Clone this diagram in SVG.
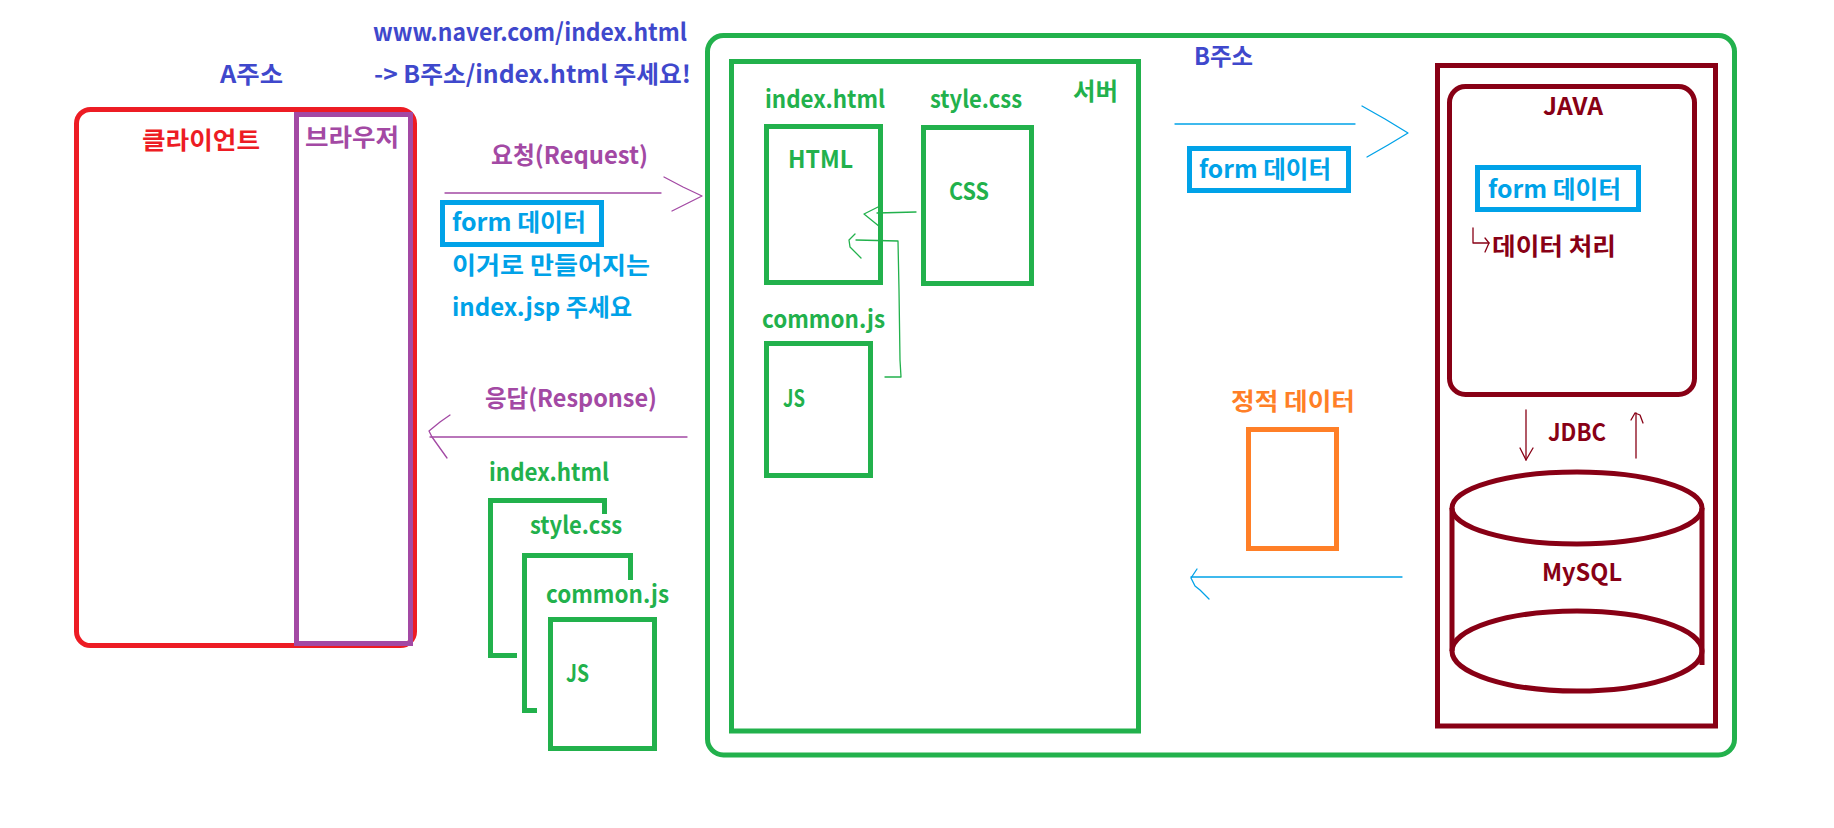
<svg xmlns="http://www.w3.org/2000/svg" width="1834" height="828" viewBox="0 0 1834 828">
<style>
.t{font-family:"Noto Sans CJK KR","Noto Sans",sans-serif;font-weight:bold;font-size:24px}
.ind{fill:#3F48CC}.red{fill:#ED1C24}.pur{fill:#A349A4}.sky{fill:#00A2E8}.grn{fill:#22B14C}.drd{fill:#880015}.org{fill:#FF7F27}
.box{fill:none;stroke-width:5}
.g{stroke:#22B14C}.b{stroke:#00A2E8}.d{stroke:#880015}
.ln{fill:none;stroke-width:1.3;stroke-linejoin:round;stroke-linecap:round}
</style>
<rect width="1834" height="828" fill="#fff"/>

<g id="header">
<text class="t ind" x="373" y="41" textLength="314" lengthAdjust="spacingAndGlyphs">www.naver.com/index.html</text>
<text class="t ind" x="220" y="83" textLength="63" lengthAdjust="spacingAndGlyphs">A주소</text>
<text class="t ind" x="374" y="83" textLength="317" lengthAdjust="spacingAndGlyphs">-&gt; B주소/index.html 주세요!</text>
</g>

<g id="client">
<rect class="box" x="76.5" y="109.5" width="338" height="536" rx="14" stroke="#ED1C24"/>
<text class="t red" x="142" y="149" textLength="118" lengthAdjust="spacingAndGlyphs">클라이언트</text>
</g>

<g id="browser">
<rect class="box" x="296.5" y="114.5" width="114" height="529" stroke="#A349A4"/>
<text class="t pur" x="305" y="146" textLength="94" lengthAdjust="spacingAndGlyphs">브라우저</text>
</g>

<g id="request-label">
<text class="t pur" x="491" y="164" textLength="157" lengthAdjust="spacingAndGlyphs">요청(Request)</text>
<rect class="box b" x="442.5" y="202.5" width="159" height="42"/>
<text class="t sky" x="452" y="231" textLength="134" lengthAdjust="spacingAndGlyphs">form 데이터</text>
<text class="t sky" x="452" y="274" textLength="198" lengthAdjust="spacingAndGlyphs">이거로 만들어지는</text>
<text class="t sky" x="452" y="316" textLength="180" lengthAdjust="spacingAndGlyphs">index.jsp 주세요</text>
</g>

<g id="response-label">
<text class="t pur" x="485" y="407" textLength="172" lengthAdjust="spacingAndGlyphs">응답(Response)</text>
<text class="t grn" x="489" y="481" textLength="120" lengthAdjust="spacingAndGlyphs">index.html</text>
<path class="box g" d="M517 655.5 H490.5 V500.5 H604.5 V514"/>
<text class="t grn" x="530" y="534" textLength="92" lengthAdjust="spacingAndGlyphs">style.css</text>
<path class="box g" d="M537 710.5 H524.5 V555.5 H630.5 V580"/>
<text class="t grn" x="546" y="603" textLength="123" lengthAdjust="spacingAndGlyphs">common.js</text>
<rect class="box g" x="550.5" y="619.5" width="104" height="129"/>
<text class="t grn" x="566" y="682" textLength="23" lengthAdjust="spacingAndGlyphs">JS</text>
</g>

<g id="b-address">
<rect class="box g" x="707.5" y="35.5" width="1027" height="719.5" rx="16"/>
<text class="t ind" x="1194" y="65" textLength="59" lengthAdjust="spacingAndGlyphs">B주소</text>
</g>

<g id="server">
<rect class="box g" x="731.5" y="61.5" width="407" height="669.5"/>
<text class="t grn" x="1073" y="100" textLength="45" lengthAdjust="spacingAndGlyphs">서버</text>
</g>

<g id="html-file">
<text class="t grn" x="765" y="108" textLength="120" lengthAdjust="spacingAndGlyphs">index.html</text>
<rect class="box g" x="766.5" y="126.5" width="114" height="156"/>
<text class="t grn" x="788" y="168" textLength="65" lengthAdjust="spacingAndGlyphs">HTML</text>
</g>

<g id="css-file">
<text class="t grn" x="930" y="108" textLength="92" lengthAdjust="spacingAndGlyphs">style.css</text>
<rect class="box g" x="923.5" y="127.5" width="108" height="156"/>
<text class="t grn" x="949" y="200" textLength="40" lengthAdjust="spacingAndGlyphs">CSS</text>
</g>

<g id="js-file">
<text class="t grn" x="762" y="328" textLength="123" lengthAdjust="spacingAndGlyphs">common.js</text>
<rect class="box g" x="766.5" y="343.5" width="104" height="132"/>
<text class="t grn" x="783" y="407" textLength="22" lengthAdjust="spacingAndGlyphs">JS</text>
</g>

<g id="form-data-mid">
<rect class="box b" x="1189.5" y="148.5" width="159" height="42"/>
<text class="t sky" x="1199" y="178" textLength="132" lengthAdjust="spacingAndGlyphs">form 데이터</text>
</g>

<g id="static-data">
<text class="t org" x="1231" y="410" textLength="124" lengthAdjust="spacingAndGlyphs">정적 데이터</text>
<rect class="box" x="1248.5" y="429.5" width="88" height="119" stroke="#FF7F27"/>
</g>

<g id="was">
<rect class="box d" x="1437.5" y="65.5" width="278" height="660.5"/>
</g>

<g id="java">
<rect class="box d" x="1449.5" y="86.5" width="245" height="308" rx="16"/>
<text class="t drd" x="1543" y="115" textLength="60" lengthAdjust="spacingAndGlyphs">JAVA</text>
<rect class="box b" x="1477.5" y="167.5" width="161" height="42"/>
<text class="t sky" x="1488" y="198" textLength="133" lengthAdjust="spacingAndGlyphs">form 데이터</text>
<text class="t drd" x="1492" y="255" textLength="124" lengthAdjust="spacingAndGlyphs">데이터 처리</text>
</g>

<g id="mysql">
<path class="box d" d="M1452 508 V651 M1702 508 V665"/>
<ellipse class="box d" cx="1577" cy="508" rx="125" ry="36"/>
<ellipse class="box d" cx="1577" cy="651" rx="125" ry="40"/>
<text class="t drd" x="1542" y="581" textLength="80" lengthAdjust="spacingAndGlyphs">MySQL</text>
</g>

<g id="jdbc">
<text class="t drd" x="1548" y="441" textLength="58" lengthAdjust="spacingAndGlyphs">JDBC</text>
</g>

<g id="connectors">
<g stroke="#A349A4" class="ln">
<path d="M445 193 H661"/>
<polyline points="664,177 683,187 702,196 688,203 672,211"/>
<path d="M430 437 H687"/>
<polyline points="450,415 440,422 429,431 432,437 447,458"/>
</g>
<g stroke="#22B14C" class="ln">
<path d="M916 212 L877 213"/>
<polyline points="880,206 864,214 880,227"/>
<polyline points="885,377 901,377 900,360 899,290 898,241 856,240"/>
<polyline points="855,234 849,240 850,247 861,258"/>
</g>
<g stroke="#00A2E8" class="ln">
<path d="M1175 124 H1355"/>
<polyline points="1362,106 1385,119 1408,133 1388,145 1367,157"/>
<path d="M1191 577 H1402"/>
<polyline points="1197,569 1191,578 1195,586 1200,590 1209,599"/>
</g>
<g stroke="#880015" class="ln">
<polyline points="1473,228 1473,243 1489,243"/>
<polyline points="1485,238 1489,243 1485,252"/>
<path d="M1526 410 V460"/>
<polyline points="1520,448 1526,460 1533,448"/>
<path d="M1636 458 V413"/>
<polyline points="1631,420 1635,413 1640,415 1643,423"/>
</g>
</g>
</svg>
